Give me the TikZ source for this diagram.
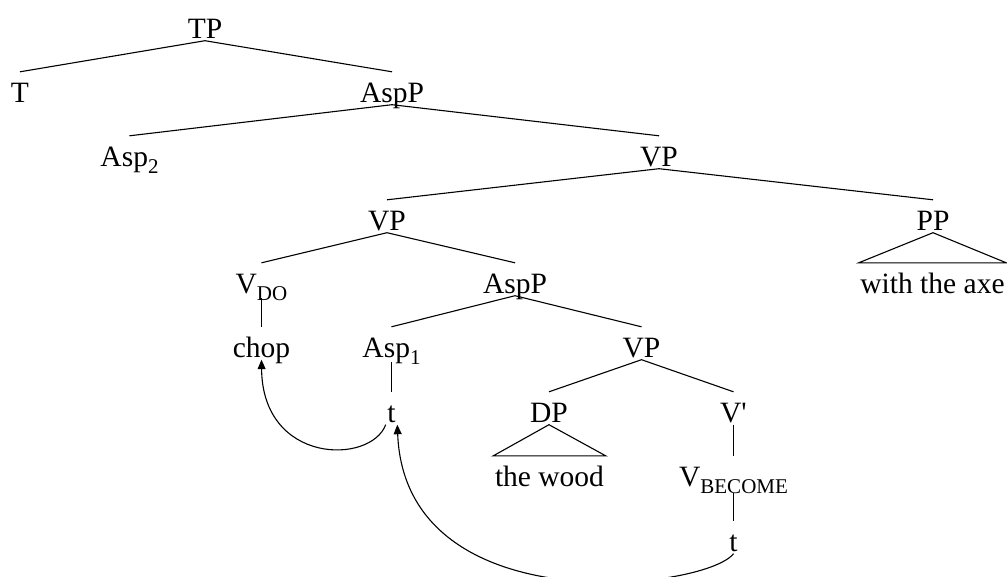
\documentclass[tikz,border=0pt]{standalone}
\usepackage{fontspec}
\setmainfont{Liberation Serif}[Ligatures=TeXOff]
\usetikzlibrary{arrows.meta}
% lowered, smaller label index (Asp_1, V_DO, ...)
\newcommand\lsub[1]{\raisebox{-7pt}{\fontsize{21}{21}\selectfont #1}}
\begin{document}
\begin{tikzpicture}[x=1pt,y=-1pt,
  lbl/.style={anchor=base, inner ysep=0pt, inner xsep=1.5pt,
    text height=30pt, text depth=2.5pt, font=\fontsize{29.5}{30}\selectfont},
  branch/.style={line width=1.1pt},
  move/.style={line width=1.1pt, -{Triangle[length=9.5pt,width=8pt]}}]
\useasboundingbox (0,0) rectangle (1007,576);

% labels of the tree
\node[lbl] (tp) at (205,38) {TP};
\node[lbl] (t) at (20,102) {T};
\node[lbl] (asppA) at (392,102) {AspP};
\node[lbl] (asp2) at (129.5,166) {Asp\lsub{2}};
\node[lbl] (vpA) at (659,166) {VP};
\node[lbl] (vpB) at (387,230) {VP};
\node[lbl] (pp) at (933,230) {PP};
\node[lbl, text depth=5pt] (vdo) at (261.5,293) {V\lsub{DO}};
\node[lbl] (asppB) at (515,293) {AspP};
\node[lbl] (axe) at (932.5,293) {with the axe};
\node[lbl] (chop) at (261.5,357) {chop};
\node[lbl, text depth=5pt] (asp1) at (391.5,357) {Asp\lsub{1}};
\node[lbl] (vpC) at (641.5,357) {VP};
\node[lbl] (tr1) at (391.5,422) {t};
\node[lbl] (dp) at (549,422) {DP};
\node[lbl] (vbar) at (733.5,422) {V'};
\node[lbl] (wood) at (549.5,486) {the wood};
\node[lbl, text depth=7pt] (vbec) at (733.5,486) {V\lsub{BECOME}};
\node[lbl] (tr2) at (733.5,551) {t};

% branches
\draw[branch] (tp.south) -- (t.north) (tp.south) -- (asppA.north);
\draw[branch] (asppA.south) -- (asp2.north) (asppA.south) -- (vpA.north);
\draw[branch] (vpA.south) -- (vpB.north) (vpA.south) -- (pp.north);
\draw[branch] (vpB.south) -- (vdo.north) (vpB.south) -- (asppB.north);
\draw[branch] (vdo.south) -- (chop.north);
\draw[branch] (asppB.south) -- (asp1.north) (asppB.south) -- (vpC.north);
\draw[branch] (asp1.south) -- (tr1.north);
\draw[branch] (vpC.south) -- (dp.north) (vpC.south) -- (vbar.north);
\draw[branch] (vbar.south) -- (vbec.north);
\draw[branch] (vbec.south) -- (tr2.north);

% roofs over unanalysed phrases
\draw[branch] (pp.south) -- (axe.north west) -- (axe.north east) -- cycle;
\draw[branch] (dp.south) -- (wood.north west) -- (wood.north east) -- cycle;

% head movement
\draw[move] (tr1.south west) .. controls +(-15,40) and +(1,105) .. (chop.south);
\draw[move] (tr2.south) .. controls +(-28.5,36.5) and +(8,200) .. (tr1.south east);
\end{tikzpicture}
\end{document}
